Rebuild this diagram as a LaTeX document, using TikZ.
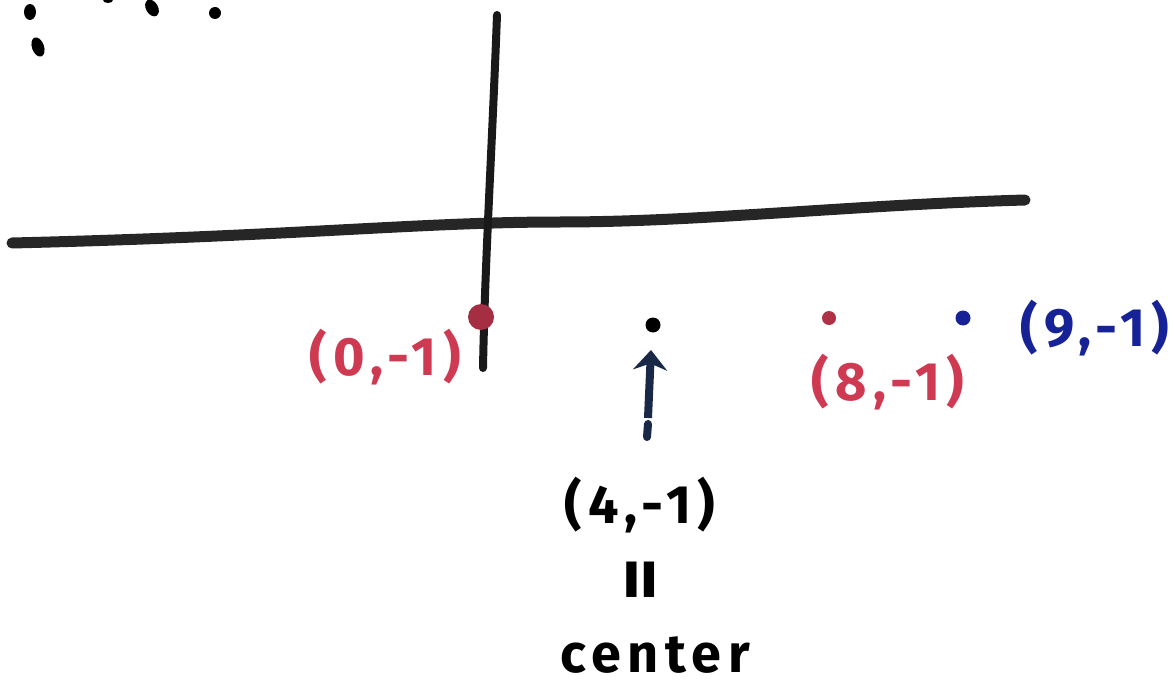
\documentclass[tikz,border=0pt]{standalone}
\usepackage{fontspec}
\setmainfont{Fira Sans}
\usetikzlibrary{arrows.meta}
\definecolor{mred}{RGB}{206,58,82}
\definecolor{mblue}{RGB}{22,34,150}
\definecolor{mdark}{RGB}{24,40,70}
\tikzset{
  lbl/.style={font=\fontsize{54}{60}\selectfont\bfseries\addfontfeature{LetterSpace=12}, inner sep=0pt},
  marker/.style={line width=10pt, line cap=round, line join=round},
  dotmark/.style={circle, fill, inner sep=0pt, minimum size=#1}
}
\begin{document}
\begin{tikzpicture}[x=1pt,y=-1pt]
\useasboundingbox (0,0) rectangle (1176,690);
% top-left fragments of cut-off text
\fill (30,12) ellipse (6 and 8);
\fill[rotate around={20:(38,47)}] (38,47) ellipse (6 and 10);
\fill[rotate around={30:(152,8)}] (152,8) ellipse (6 and 9);
\fill (108,0) ellipse (5 and 3);
\fill (215,13) circle (6);
% axes
\coordinate (hL) at (12,243);
\coordinate (hR) at (1025,200);
\coordinate (vT) at (497,15);
\coordinate (vB) at (483,368);
\draw[marker, line width=11pt, black!85] (hL) .. controls (300,236) and (420,222) .. (560,222)
   .. controls (700,222) and (850,205) .. (hR);
\draw[marker, line width=8pt, black!90] (vT) .. controls (492,150) and (485,260) .. (vB);
% points
\node[dotmark=26pt, fill=mred!80!black] (p0) at (481,317) {};
\node[dotmark=15pt, fill=black] (p4) at (653,325) {};
\node[dotmark=14pt, fill=mred!85!black] (p8) at (829,318) {};
\node[dotmark=15pt, fill=mblue] (p9) at (963,318) {};
% labels
\node[lbl, text=mred] (l0) at (385,357) {(0,-1)};
\node[lbl, text=mred] (l8) at (888,382) {(8,-1)};
\node[lbl, text=mblue] (l9) at (1095,328) {(9,-1)};
\node[lbl, text=black] (l4) at (640,505) {(4,-1)};
\node[lbl, text=black, rotate=90, font=\fontsize{84}{90}\selectfont\bfseries] (eq) at (648,580) {=};
\node[lbl, text=black] (lc) at (655,655) {center};
% arrow pointing up to (4,-1)
\coordinate (aT) at (651,350);
\coordinate (aB) at (648,418);
\draw[mdark, line width=8pt, -{Stealth[length=20pt,width=34pt]}] (aB) -- (aT);
\coordinate (dT) at (648,424);
\coordinate (dB) at (647,437);
\draw[mdark, line width=8pt, line cap=round] (dT) -- (dB);
\end{tikzpicture}
\end{document}
